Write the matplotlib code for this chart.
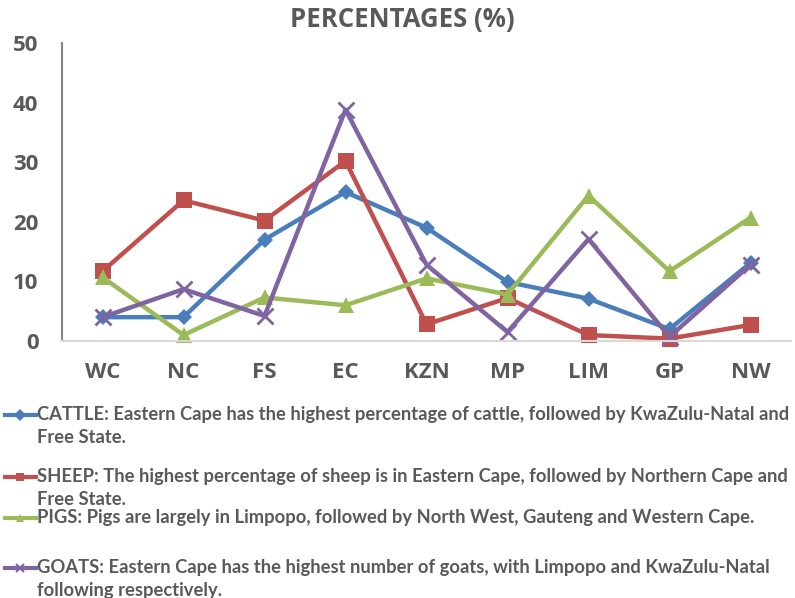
import matplotlib
matplotlib.use("Agg")
import matplotlib.pyplot as plt
from matplotlib.lines import Line2D

provinces = ["WC", "NC", "FS", "EC", "KZN", "MP", "LIM", "GP", "NW"]
cattle = [4.0, 4.0, 17.0, 25.0, 19.0, 9.9, 7.1, 2.0, 13.1]
sheep = [11.7, 23.6, 20.2, 30.2, 2.8, 7.2, 1.0, 0.4, 2.7]
pigs = [10.7, 1.0, 7.3, 6.0, 10.5, 7.8, 24.4, 11.7, 20.7]
goats = [4.0, 8.7, 4.2, 38.8, 12.8, 1.5, 17.1, 0.7, 12.8]
yticks = [0, 10, 20, 30, 40, 50]
title = "PERCENTAGES (%)"
legend_texts = [
    "CATTLE: Eastern Cape has the highest percentage of cattle, followed by KwaZulu-Natal and\nFree State.",
    "SHEEP: The highest percentage of sheep is in Eastern Cape, followed by Northern Cape and\nFree State.",
    "PIGS: Pigs are largely in Limpopo, followed by North West, Gauteng and Western Cape.",
    "GOATS: Eastern Cape has the highest number of goats, with Limpopo and KwaZulu-Natal\nfollowing respectively.",
]

colors = ["#4A7EBB", "#C0504D", "#9BBB59", "#8064A2"]
markers = ["D", "s", "^", "x"]
msizes = [8, 11, 11, 12]
gray = "#595959"

fig = plt.figure(figsize=(7.95, 5.98), dpi=100)
ax = fig.add_axes([62 / 795, (598 - 341) / 598, (791 - 62) / 795, (341 - 43) / 598])

x = list(range(len(provinces)))
series = [cattle, sheep, pigs, goats]
for vals, c, m, ms in zip(series, colors, markers, msizes):
    kw = dict(markeredgewidth=2) if m == "x" else dict(markeredgewidth=0)
    ax.plot(x, vals, color=c, linewidth=3.2, marker=m, markersize=ms,
            markerfacecolor=c, markeredgecolor=c, clip_on=False, **kw)

ax.set_xlim(-0.5, len(provinces) - 0.5)
ax.set_ylim(0, 50)
ax.set_yticks(yticks)
ax.set_xticks(x)
ax.set_xticklabels(provinces)
for lab in ax.get_xticklabels() + ax.get_yticklabels():
    lab.set_fontweight("bold")
    lab.set_color(gray)
    lab.set_fontsize(16)
    lab.set_family("Open Sans")
ax.tick_params(axis="both", length=0)
ax.tick_params(axis="y", pad=17)
ax.tick_params(axis="x", pad=15)
for s in ["top", "right"]:
    ax.spines[s].set_visible(False)
ax.spines["left"].set_color("#868686")
ax.spines["left"].set_linewidth(1.5)
ax.spines["bottom"].set_color("#D9D9D9")
ax.spines["bottom"].set_linewidth(1.5)

fig.text(402 / 795, 1 - 20 / 598, title, ha="center", va="center",
         fontsize=18.5, fontweight="bold", color=gray, family="Open Sans")

ys = [415, 477, 518, 568]
for txt, y, c, m in zip(legend_texts, ys, colors, markers):
    yf = 1 - y / 598
    fig.add_artist(Line2D([5 / 795, 36 / 795], [yf, yf], color=c, linewidth=3,
                          transform=fig.transFigure))
    fig.add_artist(Line2D([20 / 795], [yf], color=c, marker=m, markersize=6,
                          markeredgewidth=1.5 if m == "x" else 0,
                          markerfacecolor=c, markeredgecolor=c,
                          transform=fig.transFigure))
    fig.text(37 / 795, yf + 9 / 598, txt, ha="left", va="top", fontsize=13.2,
             fontweight="bold", color=gray, family="Lato", linespacing=1.42)

fig.savefig("out.png", dpi=100)
